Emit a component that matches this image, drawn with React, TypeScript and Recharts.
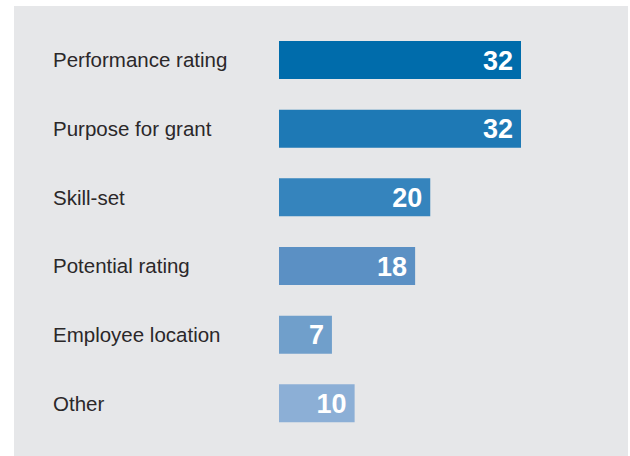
import { BarChart, Bar, XAxis, YAxis, Cell, LabelList } from 'recharts'

const categories = [
  'Performance rating',
  'Purpose for grant',
  'Skill-set',
  'Potential rating',
  'Employee location',
  'Other',
]
const values = [32, 32, 20, 18, 7, 10]
const barColors = ['#006cab', '#1e79b5', '#3584bd', '#5b90c4', '#709fcb', '#8cafd6']

const data = categories.map((name, i) => ({ name, value: values[i] }))

function CategoryTick(props: any) {
  const { y, payload } = props
  return (
    <text
      x={39}
      y={y}
      dy={7}
      textAnchor="start"
      fill="#2b2829"
      fontSize={20.5}
      fontFamily="'Liberation Sans', Arial, sans-serif"
    >
      {payload.value}
    </text>
  )
}

export default function App() {
  return (
    <div
      style={{
        position: 'absolute',
        left: 14,
        top: 6,
        width: 614,
        height: 450,
        background: '#e6e7e9',
      }}
    >
      <BarChart
        width={614}
        height={450}
        data={data}
        layout="vertical"
        margin={{ top: 20, right: 107, bottom: 18, left: 0 }}
        barCategoryGap={0}
      >
        <XAxis type="number" domain={[0, 32]} hide />
        <YAxis
          type="category"
          dataKey="name"
          width={265}
          axisLine={false}
          tickLine={false}
          tick={<CategoryTick />}
          interval={0}
        />
        <Bar dataKey="value" barSize={38} isAnimationActive={false}>
          {data.map((d, i) => (
            <Cell key={d.name} fill={barColors[i]} />
          ))}
          <LabelList
            dataKey="value"
            position="insideRight"
            offset={8}
            fill="#ffffff"
            fontSize={27}
            fontWeight="bold"
            fontFamily="'Liberation Sans', Arial, sans-serif"
          />
        </Bar>
      </BarChart>
    </div>
  )
}
